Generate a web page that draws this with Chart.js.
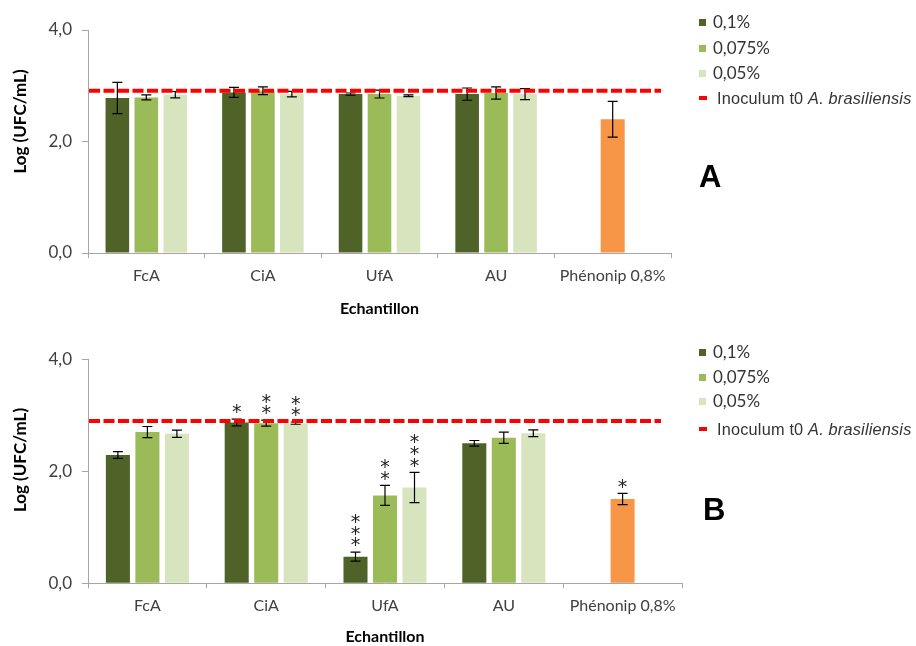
<!DOCTYPE html>
<html>
<head>
<meta charset="utf-8">
<script src="https://cdn.jsdelivr.net/npm/chart.js@4/dist/chart.umd.min.js"></script>
<style>
  html, body { margin: 0; padding: 0; background: #fff; }
  #wrap { position: relative; width: 916px; height: 646px; overflow: hidden; font-family: Lato, "Liberation Sans", sans-serif; }
  .cv { position: absolute; left: 0; }
  .legend { position: absolute; left: 699px; color: #333; }
  .li { position: absolute; left: 0; white-space: nowrap; font-size: 17px; line-height: 18px; }
  .sw { position: absolute; left: 0; width: 7px; height: 7px; top: 6px; }
  .dash { position: absolute; left: 0; width: 8px; height: 4px; top: 7px; background: #FF0000; }
  .lt { position: absolute; left: 14px; top: 0; }
  .lt2 { position: absolute; left: 18px; top: 0; font-family: "Liberation Sans", Arial, sans-serif; font-size: 16.3px; letter-spacing: 0.2px; }
  .letter { position: absolute; font-family: "Liberation Sans", Arial, sans-serif; font-weight: bold; font-size: 31px; color: #000; }
</style>
</head>
<body>
<div id="wrap">
  <canvas id="cA" class="cv" style="top:0px" width="916" height="323"></canvas>
  <canvas id="cB" class="cv" style="top:323px" width="916" height="323"></canvas>
  <div id="legA" class="legend" style="top:0px"></div>
  <div id="legB" class="legend" style="top:329px"></div>
  <div class="letter" style="left:699px; top:159px">A</div>
  <div class="letter" style="left:703px; top:492px">B</div>
</div>
<script>
// ---------- DATA ----------
const categories = ['FcA', 'CiA', 'UfA', 'AU', 'Phénonip 0,8%'];
const seriesLabels = ['0,1%', '0,075%', '0,05%'];
const controlLabel = 'Phénonip 0,8%';
const inoculumText = 'Inoculum t0 ';
const inoculumItalic = 'A. brasiliensis';
const yTicks = [0, 2, 4];
const yTitle = 'Log (UFC/mL)';
const xTitle = 'Echantillon';

// Panel A
const a_01 = [2.78, 2.88, 2.85, 2.85, null];
const a_01_err = [0.28, 0.09, 0.02, 0.11, null];
const a_0075 = [2.79, 2.91, 2.85, 2.87, null];
const a_0075_err = [0.045, 0.07, 0.07, 0.11, null];
const a_005 = [2.84, 2.85, 2.82, 2.85, null];
const a_005_err = [0.057, 0.05, 0.015, 0.10, null];
const a_phen = [null, null, null, null, 2.40];
const a_phen_err = [null, null, null, null, 0.32];
const a_inoculum = [2.91];

// Panel B
const b_01 = [2.29, 2.87, 0.475, 2.50, null];
const b_01_err = [0.06, 0.06, 0.08, 0.05, null];
const b_0075 = [2.70, 2.86, 1.57, 2.60, null];
const b_0075_err = [0.10, 0.055, 0.18, 0.10, null];
const b_005 = [2.67, 2.86, 1.71, 2.68, null];
const b_005_err = [0.065, 0.02, 0.27, 0.06, null];
const b_phen = [null, null, null, null, 1.505];
const b_phen_err = [null, null, null, null, 0.10];
const b_01_sig = ['', '*', '***', '', ''];
const b_0075_sig = ['', '**', '**', '', ''];
const b_005_sig = ['', '**', '***', '', ''];
const b_phen_sig = ['', '', '', '', '*'];
const b_inoculum = [2.90];

// ---------- STYLE ----------
const colors = ['#4F6228', '#9BBB59', '#D7E4BD'];
const orange = '#F79646';
const axisGrey = '#A6A6A6';
const textGrey = '#404040';

// ---------- PLUGINS ----------
const errorBars = {
  id: 'errorBars',
  afterDatasetsDraw(chart) {
    const ctx = chart.ctx, ys = chart.scales.y;
    chart.data.datasets.forEach((ds, di) => {
      if (!ds.errors) return;
      const meta = chart.getDatasetMeta(di);
      meta.data.forEach((bar, i) => {
        const v = ds.data[i], e = ds.errors[i];
        if (v == null || e == null) return;
        const x = bar.x;
        const yt = ys.getPixelForValue(v + e), yb = ys.getPixelForValue(v - e);
        ctx.save();
        ctx.strokeStyle = ds.errColor || '#000';
        ctx.lineWidth = 1.2;
        ctx.beginPath();
        ctx.moveTo(x, yt); ctx.lineTo(x, yb);
        ctx.moveTo(x - 5, yt); ctx.lineTo(x + 5, yt);
        ctx.moveTo(x - 5, yb); ctx.lineTo(x + 5, yb);
        ctx.stroke();
        ctx.restore();
        if (ds.sig && ds.sig[i]) {
          const n = ds.sig[i].length;
          ctx.save();
          ctx.fillStyle = '#222';
          ctx.font = '19px "DejaVu Sans", sans-serif';
          ctx.textAlign = 'center';
          ctx.textBaseline = 'alphabetic';
          for (let k = 0; k < n; k++) {
            const cy = yt - 12 - k * 11.7;
            ctx.fillText('*', x, cy + 11.2);
          }
          ctx.restore();
        }
      });
    });
  }
};

const refLine = {
  id: 'refLine',
  afterDatasetsDraw(chart, args, opts) {
    const ys = chart.scales.y, ctx = chart.ctx;
    const y = ys.getPixelForValue(opts.value);
    ctx.save();
    ctx.strokeStyle = '#FF0000';
    ctx.lineWidth = 4;
    ctx.setLineDash([11, 3.5]);
    ctx.beginPath();
    ctx.moveTo(chart.chartArea.left + 1, y);
    ctx.lineTo(opts.endX, y);
    ctx.stroke();
    ctx.restore();
  }
};

const yTitlePlugin = {
  id: 'yTitlePlugin',
  afterDraw(chart, args, opts) {
    const ctx = chart.ctx;
    ctx.save();
    ctx.translate(21, opts.centerY);
    ctx.rotate(-Math.PI / 2);
    ctx.font = 'bold 17px Lato, sans-serif';
    ctx.fillStyle = '#000';
    ctx.textAlign = 'center';
    ctx.textBaseline = 'middle';
    ctx.fillText(yTitle, 0, 0);
    ctx.restore();
  }
};

function makeChart(id, d, cfg) {
  const mk = (label, data, err, color, sig) => ({
    label, data, errors: err, sig, backgroundColor: color,
    categoryPercentage: 0.745, barPercentage: 0.815, skipNull: true, borderWidth: 0
  });
  const datasets = [
    mk(seriesLabels[0], d.s1, d.e1, colors[0], d.g1),
    mk(seriesLabels[1], d.s2, d.e2, colors[1], d.g2),
    mk(seriesLabels[2], d.s3, d.e3, colors[2], d.g3),
    Object.assign(mk(controlLabel, d.p, d.pe, orange, d.gp), { maxBarThickness: 24 })
  ];
  return new Chart(document.getElementById(id), {
    type: 'bar',
    data: { labels: categories, datasets },
    plugins: [errorBars, refLine, yTitlePlugin],
    options: {
      responsive: false,
      animation: false,
      devicePixelRatio: 1,
      layout: { padding: { left: 0, right: cfg.padRight, top: cfg.padTop, bottom: 0 } },
      plugins: {
        legend: { display: false },
        tooltip: { enabled: false },
        refLine: { value: d.ref[0], endX: 661 },
        yTitlePlugin: { centerY: cfg.titleY }
      },
      scales: {
        x: {
          afterFit: (s) => { s.height = cfg.xHeight; },
          grid: { drawOnChartArea: false, tickLength: 5, color: axisGrey, offset: true },
          border: { color: axisGrey, width: 1 },
          ticks: { color: textGrey, font: { family: 'Lato', size: 16 }, padding: cfg.xPad, maxRotation: 0, autoSkip: false },
          title: { display: true, text: xTitle, color: '#000', font: { family: 'Lato', size: 16, weight: 'bold' }, padding: { top: 0, bottom: cfg.titlePad } }
        },
        y: {
          min: 0, max: 4,
          afterFit: (s) => { s.width = 88; },
          afterBuildTicks: (s) => { s.ticks = yTicks.map(v => ({ value: v })); },
          grid: { drawOnChartArea: false, tickLength: 6, color: axisGrey },
          border: { color: axisGrey, width: 1 },
          ticks: {
            color: textGrey, font: { family: 'Lato', size: 17 }, padding: 10,
            callback: (v) => Number(v).toFixed(1).replace('.', ',')
          },
          title: { display: false }
        }
      }
    }
  });
}

makeChart('cA', {
  s1: a_01, e1: a_01_err, s2: a_0075, e2: a_0075_err, s3: a_005, e3: a_005_err,
  p: a_phen, pe: a_phen_err, ref: a_inoculum
}, { padRight: 245, padTop: 30, xHeight: 70, xPad: 8, titlePad: 5, titleY: 121.5 });

makeChart('cB', {
  s1: b_01, e1: b_01_err, s2: b_0075, e2: b_0075_err, s3: b_005, e3: b_005_err,
  p: b_phen, pe: b_phen_err, ref: b_inoculum,
  g1: b_01_sig, g2: b_0075_sig, g3: b_005_sig, gp: b_phen_sig
}, { padRight: 234, padTop: 36.3, xHeight: 62.7, xPad: 7.5, titlePad: 0, titleY: 137 });

// ---------- LEGENDS (HTML, built from labels) ----------
function buildLegend(id, tops) {
  const el = document.getElementById(id);
  seriesLabels.forEach((lab, i) => {
    const item = document.createElement('div');
    item.className = 'li';
    item.style.top = tops[i] + 'px';
    const sw = document.createElement('span'); sw.className = 'sw'; sw.style.background = colors[i];
    const t = document.createElement('span'); t.className = 'lt'; t.textContent = lab;
    item.appendChild(sw); item.appendChild(t);
    el.appendChild(item);
  });
  const item = document.createElement('div');
  item.className = 'li';
  item.style.top = tops[3] + 'px';
  const d = document.createElement('span'); d.className = 'dash';
  const t = document.createElement('span'); t.className = 'lt2';
  t.appendChild(document.createTextNode(inoculumText));
  const it = document.createElement('i'); it.textContent = inoculumItalic;
  t.appendChild(it);
  item.appendChild(d); item.appendChild(t);
  el.appendChild(item);
}
buildLegend('legA', [13, 38.5, 64, 88.5]);
buildLegend('legB', [13.5, 38.5, 63, 91]);
</script>
</body>
</html>
